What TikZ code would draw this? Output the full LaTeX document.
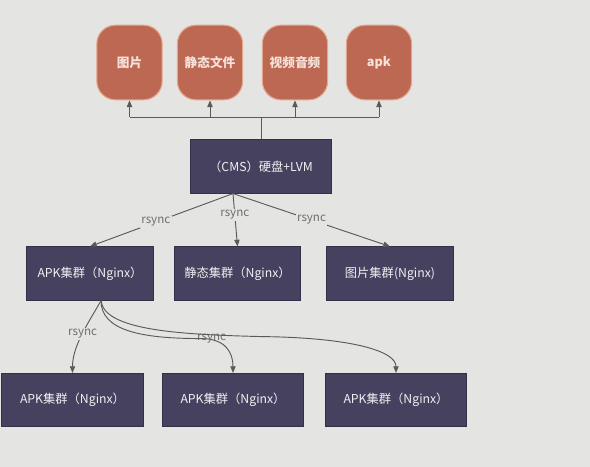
\documentclass[tikz,border=0pt]{standalone}
\usepackage{fontspec}
\setmainfont{Noto Sans CJK SC}
\usetikzlibrary{arrows.meta}

\definecolor{bg}{HTML}{E4E4E3}
\definecolor{drumfill}{HTML}{BD6852}
\definecolor{drumline}{HTML}{E2A88E}
\definecolor{drumtext}{HTML}{F6E2DA}
\definecolor{boxfill}{HTML}{46415F}
\definecolor{boxline}{HTML}{34304A}
\definecolor{wire}{HTML}{5A5A5A}
\definecolor{lbl}{HTML}{6E6E6E}

\begin{document}
\begin{tikzpicture}[x=0.75pt, y=-0.75pt,
	drum/.style={shape=rectangle, rounded corners=14pt, fill=drumfill, draw=drumline, line width=0.8pt,
		minimum width=49pt, minimum height=56pt, text=drumtext, font=\fontsize{9.5}{11}\selectfont\bfseries},
	srv/.style={shape=rectangle, fill=boxfill, draw=boxline, line width=0.6pt,
		minimum width=95pt, minimum height=40pt, text=white!92!boxfill, font=\fontsize{9.2}{11}\selectfont},
	arr/.style={-{Triangle[width=4pt,length=5pt]}, draw=wire, line width=0.7pt},
	tag/.style={text=lbl, font=\fontsize{8.7}{10}\selectfont, inner sep=1pt}]

	\fill[bg] (0, 0) rectangle (590, 467);
	\useasboundingbox (0, 0) rectangle (590, 467);

	\node[drum] (img) at (129.5, 62.5)     {图片};
	\node[drum] (stat) at (210, 62.5)     {静态文件};
	\node[drum] (media) at (295, 62.5)     {视频音频};
	\node[drum] (apk) at (379, 62.5)     {apk};

	\node[srv, minimum width=106pt] (cms) at (261, 166.5)     {（CMS）硬盘+LVM};

	\node[srv] (apkgrp) at (90, 273.5)     {APK集群（Nginx）};
	\node[srv] (statgrp) at (237.5, 273.5)     {静态集群（Nginx）};
	\node[srv] (imggrp) at (390, 273.5)     {图片集群(Nginx)};

	\node[srv, minimum width=106pt] (nodea) at (72.5, 400)     {APK集群（Nginx）};
	\node[srv, minimum width=106pt] (nodeb) at (233, 400)     {APK集群（Nginx）};
	\node[srv, minimum width=106pt] (nodec) at (396, 400)     {APK集群（Nginx）};

	\coordinate (bus) at (261, 117);
	\draw[wire, line width=0.7pt] (cms.north) -- (bus);
	\draw[wire, line width=0.7pt] (bus -| img.south) -- (bus -| apk.south);
	\foreach \n in {img, stat, media, apk}
		\draw[arr] (bus -| \n.south) -- (\n.south);

	\path ([xshift=-21pt]cms.south) edge[arr] node[tag, fill=bg, pos=0.54]{rsync} (apkgrp.north);
	\path ([xshift=-21pt]cms.south) edge[arr] node[tag, fill=bg, pos=0.4]{rsync} (statgrp.north);
	\path ([xshift=-21pt]cms.south) edge[arr] node[tag, fill=bg, pos=0.5]{rsync} (imggrp.north);

	\draw[arr] ([xshift=8.25pt]apkgrp.south) .. controls +(-11, 20) and +(0, -28) .. node[tag, fill=bg, pos=0.5]{rsync} (nodea.north);
	\draw[arr] ([xshift=8.25pt]apkgrp.south) .. controls +(0, 30) and +(-60, 0) .. +(100, 38) node[tag, xshift=8pt]{rsync}
		.. controls +(25, 0) and +(0, -20) .. (nodeb.north);
	\draw[arr] ([xshift=8.25pt]apkgrp.south) .. controls +(3, 30) and +(-80, -2) .. +(160, 36)
		.. controls +(90, 1) and +(0, -22) .. (nodec.north);

\end{tikzpicture}
\end{document}
